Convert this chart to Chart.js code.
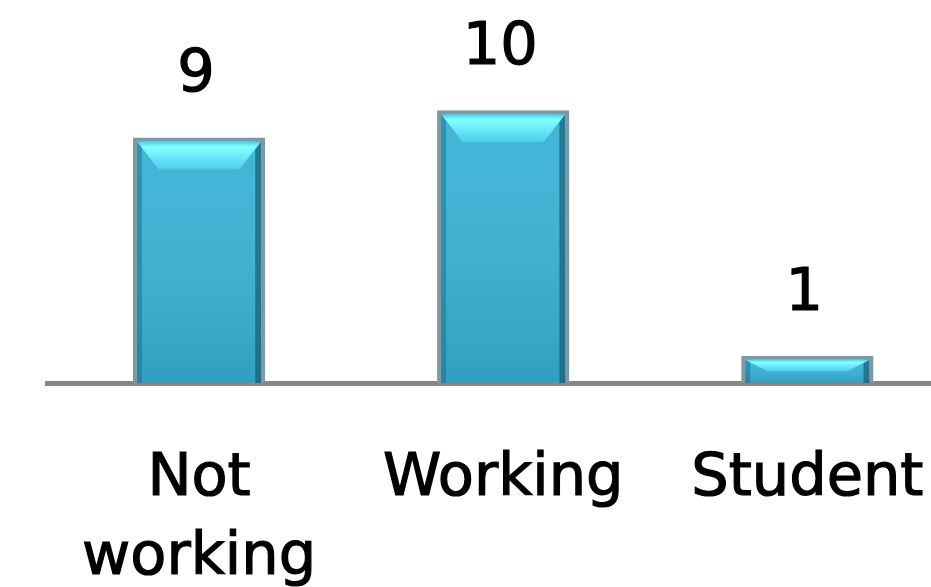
<!DOCTYPE html>
<html>
<head>
<meta charset="utf-8">
<script src="https://cdn.jsdelivr.net/npm/chart.js@4"></script>
<style>
  html, body { margin: 0; padding: 0; background: #fff; overflow: hidden; }
  #wrap { width: 981px; height: 587px; }
</style>
</head>
<body>
<div id="wrap"><canvas id="myChart" width="981" height="587"></canvas></div>
<script>
// DATA
const categories = [["Not", "working"], "Working", "Student"];
const counts = [9, 10, 1];
const yMax = 14;

const labelFont = '59px "DejaVu Sans"';

// glossy shading + value labels on top of each bar
const barDecor = {
  id: 'barDecor',
  afterDatasetsDraw(chart) {
    const ctx = chart.ctx;
    const bw = 4;
    chart.getDatasetMeta(0).data.forEach((bar, i) => {
      const l = bar.x - bar.width / 2 + bw, r = bar.x + bar.width / 2 - bw;
      const t = bar.y + bw, b = bar.base;
      const h = b - t;
      ctx.save();
      // darker towards the bottom
      let g = ctx.createLinearGradient(0, t, 0, b);
      g.addColorStop(0, 'rgba(255,255,255,0.04)');
      g.addColorStop(1, 'rgba(0,50,70,0.16)');
      ctx.fillStyle = g;
      ctx.fillRect(l, t, r - l, h);
      // side strips
      ctx.fillStyle = 'rgba(20,110,140,0.5)';
      ctx.fillRect(l, t, 5, h);
      ctx.fillStyle = 'rgba(15,80,105,0.6)';
      ctx.fillRect(r - 6, t, 6, h);
      // top highlight
      const hh = Math.min(28, h * 0.5);
      let hg = ctx.createLinearGradient(0, t, 0, t + hh);
      hg.addColorStop(0, '#48cbea');
      hg.addColorStop(0.2, '#86ffff');
      hg.addColorStop(0.6, '#66e6f8');
      hg.addColorStop(1, '#4fcdec');
      ctx.fillStyle = hg;
      ctx.beginPath();
      ctx.moveTo(l, t);
      ctx.lineTo(r, t);
      ctx.lineTo(r - 22, t + hh);
      ctx.lineTo(l + 22, t + hh);
      ctx.closePath();
      ctx.fill();
      // value label
      ctx.fillStyle = '#000';
      ctx.strokeStyle = '#000';
      ctx.lineWidth = 1.2;
      ctx.font = labelFont;
      ctx.textAlign = 'center';
      ctx.textBaseline = 'alphabetic';
      ctx.fillText(String(counts[i]), bar.x - 3, bar.y - 46);
      ctx.strokeText(String(counts[i]), bar.x - 3, bar.y - 46);
      ctx.restore();
    });
  }
};

new Chart('myChart', {
  type: 'bar',
  data: {
    labels: categories,
    datasets: [{
      data: counts,
      backgroundColor: '#3ab3d6',
      borderColor: '#80989f',
      borderWidth: 4,
      barPercentage: 0.435,
      categoryPercentage: 1
    }]
  },
  options: {
    responsive: false,
    animation: false,
    layout: { padding: { left: 47, right: 3, top: 1, bottom: 0 } },
    plugins: { legend: { display: false }, tooltip: { enabled: false } },
    scales: {
      y: { display: false, min: 0, max: yMax },
      x: {
        grid: { display: false, drawTicks: false },
        border: { display: true, color: '#868686', width: 5 },
        ticks: {
          color: '#000',
          textStrokeColor: '#000',
          textStrokeWidth: 1.2,
          padding: 57,
          maxRotation: 0,
          font: { family: 'DejaVu Sans', size: 59, lineHeight: 1.34 }
        },
        afterFit(scale) { scale.height = 204; }
      }
    }
  },
  plugins: [barDecor]
});
</script>
</body>
</html>
